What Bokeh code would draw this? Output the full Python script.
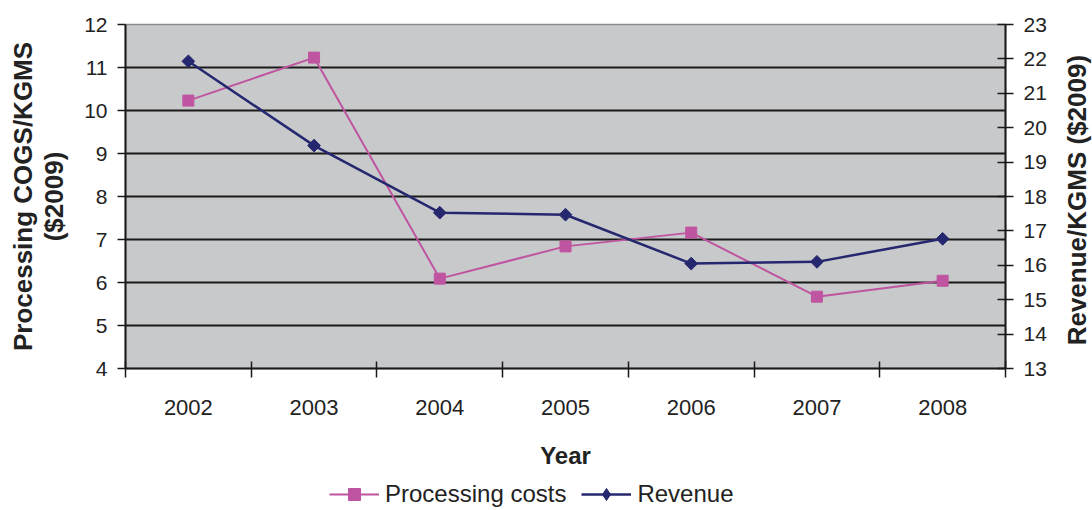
import math
from bokeh.plotting import figure
from bokeh.layouts import column, row
from bokeh.models import (Range1d, LinearAxis, FixedTicker, Legend, LegendItem)
from bokeh.embed import file_html
from bokeh.resources import INLINE

# Data
years = [2002, 2003, 2004, 2005, 2006, 2007, 2008]
processing_costs = [10.23, 11.23, 6.09, 6.84, 7.16, 5.67, 6.04]   # COGS/KGMS, $2009
revenue = [21.93, 19.48, 17.53, 17.47, 16.05, 16.10, 16.77]       # Revenue/KGMS, $2009
left_ticks = [4, 5, 6, 7, 8, 9, 10, 11, 12]
right_ticks = [13, 14, 15, 16, 17, 18, 19, 20, 21, 22, 23]
series_names = ["Processing costs", "Revenue"]

FONT = "Liberation Sans"
TEXT = "#222222"
PINK = "#BF55A0"
NAVY = "#25276F"
AXIS = "#1a1a1a"

MAIN_H = 472
TOP, BOTTOM = 24, 104

p = figure(width=1058, height=MAIN_H, output_backend="svg", toolbar_location=None,
           x_range=Range1d(years[0] - 0.5, years[-1] + 0.5),
           y_range=Range1d(left_ticks[0], left_ticks[-1]),
           x_axis_location=None, y_axis_location=None,
           min_border_left=125, min_border_right=53,
           min_border_top=TOP, min_border_bottom=BOTTOM)
p.background_fill_color = "#C8C9CB"
p.border_fill_color = "white"
p.outline_line_color = "#8a8a8a"
p.outline_line_width = 1.5
p.extra_y_ranges = {"rev": Range1d(right_ticks[0], right_ticks[-1])}

# Horizontal gridlines
p.xgrid.visible = False
p.ygrid.ticker = FixedTicker(ticks=left_ticks[1:-1])
p.ygrid.grid_line_color = AXIS
p.ygrid.grid_line_width = 2

# Bottom axis: year labels centred, boundary ticks between years
xaxis = LinearAxis(ticker=FixedTicker(ticks=years,
                                      minor_ticks=[y - 0.5 for y in years] + [years[-1] + 0.5]),
                   axis_label="Year")
xaxis.major_tick_line_color = None
xaxis.major_tick_out = 9
xaxis.major_tick_in = 0
xaxis.minor_tick_line_color = AXIS
xaxis.minor_tick_line_width = 1.5
xaxis.minor_tick_in = 7
xaxis.minor_tick_out = 9
xaxis.axis_line_color = AXIS
xaxis.axis_line_width = 2
xaxis.major_label_text_font = FONT
xaxis.major_label_text_font_size = "22px"
xaxis.major_label_text_color = TEXT
xaxis.major_label_standoff = 22
xaxis.axis_label_text_font = FONT
xaxis.axis_label_text_font_size = "24px"
xaxis.axis_label_text_font_style = "bold"
xaxis.axis_label_text_color = TEXT
xaxis.axis_label_standoff = 24
p.add_layout(xaxis, "below")

# Left axis
yaxis = LinearAxis(ticker=FixedTicker(ticks=left_ticks),
                   axis_label="Processing COGS/KGMS\n($2009)")
yaxis.major_tick_out = 8
yaxis.major_tick_in = 0
yaxis.major_tick_line_color = AXIS
yaxis.major_tick_line_width = 1.5
yaxis.minor_tick_line_color = None
yaxis.axis_line_color = AXIS
yaxis.axis_line_width = 2
yaxis.major_label_text_font = FONT
yaxis.major_label_text_font_size = "21px"
yaxis.major_label_text_color = TEXT
yaxis.major_label_standoff = 10
yaxis.axis_label_text_font = FONT
yaxis.axis_label_text_font_size = "26px"
yaxis.axis_label_text_font_style = "bold"
yaxis.axis_label_text_color = TEXT
yaxis.axis_label_text_line_height = 1.05
yaxis.axis_label_standoff = 12
p.add_layout(yaxis, "left")

# Right axis: ticks and values
raxis = LinearAxis(y_range_name="rev", ticker=FixedTicker(ticks=right_ticks))
raxis.major_tick_out = 8
raxis.major_tick_in = 8
raxis.major_tick_line_color = AXIS
raxis.major_tick_line_width = 1.5
raxis.minor_tick_line_color = None
raxis.axis_line_color = AXIS
raxis.axis_line_width = 2
raxis.major_label_text_font = FONT
raxis.major_label_text_font_size = "21px"
raxis.major_label_text_color = TEXT
raxis.major_label_standoff = 10
p.add_layout(raxis, "right")

# Series
line_style_a = dict(line_color=PINK, line_width=2)
mark_style_a = dict(marker="square", size=11, fill_color=PINK, line_color=PINK)
line_style_b = dict(line_color=NAVY, line_width=2.5)
mark_style_b = dict(marker="square", angle=math.pi / 4, size=9,
                    fill_color=NAVY, line_color=NAVY)

p.line(years, processing_costs, **line_style_a)
p.scatter(years, processing_costs, **mark_style_a)
p.line(years, revenue, y_range_name="rev", **line_style_b)
p.scatter(years, revenue, y_range_name="rev", **mark_style_b)

# Narrow strip carrying the right-hand title, read bottom to top
side = figure(width=1092 - 1058, height=MAIN_H, output_backend="svg", toolbar_location=None,
              x_range=Range1d(0, 1), y_range=Range1d(right_ticks[0], right_ticks[-1]),
              x_axis_location=None, y_axis_location=None,
              min_border_left=32, min_border_right=0,
              min_border_top=TOP, min_border_bottom=BOTTOM)
side.outline_line_color = None
side.xgrid.visible = False
side.ygrid.visible = False
taxis = LinearAxis(ticker=FixedTicker(ticks=[]), axis_label="Revenue/KGMS  ($2009)")
taxis.axis_line_color = None
taxis.major_tick_line_color = None
taxis.minor_tick_line_color = None
taxis.major_tick_out = 0
taxis.major_label_standoff = 0
taxis.axis_label_standoff = 0
taxis.axis_label_text_font = FONT
taxis.axis_label_text_font_size = "26px"
taxis.axis_label_text_font_style = "bold"
taxis.axis_label_text_color = TEXT
side.add_layout(taxis, "left")

# Legend strip under the chart; its key renderers sit outside the strip's ranges
leg = figure(width=1092, height=510 - MAIN_H, output_backend="svg", toolbar_location=None,
             x_range=Range1d(0, 1), y_range=Range1d(0, 1),
             x_axis_location=None, y_axis_location=None,
             min_border_left=0, min_border_right=0,
             min_border_top=0, min_border_bottom=0)
leg.outline_line_color = None
leg.xgrid.visible = False
leg.ygrid.visible = False
ka = leg.line(years, processing_costs, **line_style_a)
kma = leg.scatter(years, processing_costs, marker="square",
                  fill_color=PINK, line_color=PINK)
kb = leg.line(years, revenue, **line_style_b)
kmb = leg.scatter(years, revenue, marker="diamond",
                  fill_color=NAVY, line_color=NAVY)

legend = Legend(items=[LegendItem(label=series_names[0], renderers=[ka, kma]),
                       LegendItem(label=series_names[1], renderers=[kb, kmb])],
                orientation="horizontal", location=(329, 1),
                glyph_width=50, glyph_height=30, label_standoff=6, spacing=15,
                padding=0, margin=0,
                background_fill_alpha=0, border_line_color=None,
                label_text_font=FONT, label_text_font_size="24px",
                label_text_color=TEXT)
leg.add_layout(legend, "center")

page = column(row(p, side, spacing=0), leg, spacing=0)
open("out.html", "w").write(file_html(page, INLINE))
